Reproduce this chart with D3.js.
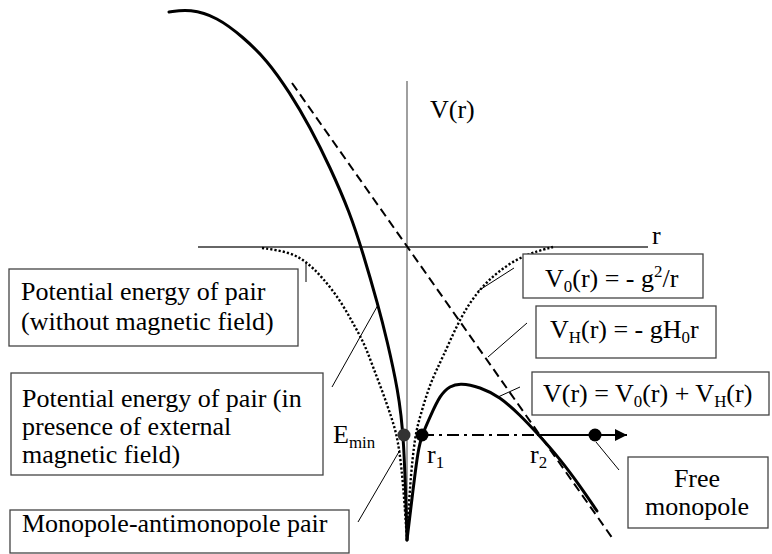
<!DOCTYPE html>
<html>
<head>
<meta charset="utf-8">
<script src="https://cdn.jsdelivr.net/npm/d3@7"></script>
<style>
  body { margin: 0; background: #fff; }
  svg text { font-family: "Liberation Serif", "DejaVu Serif", Tinos, "Times New Roman", "Nimbus Roman", FreeSerif, serif; }
</style>
</head>
<body>
<script>
// curves, in (r, V) units
var totalLeft = [[-23.8, 23.5], [-21.7, 23.8], [-19.0, 23.0], [-16.4, 21.0], [-14.0, 18.7], [-11.7, 15.4],
    [-9.7, 12.0], [-7.7, 8.0], [-5.7, 3.4], [-4.4, -0.6], [-2.9, -5.8], [-2.0, -9.3], [-0.9, -14.3],
    [-0.3, -18.8], [0, -29.3]];
var totalRight = [[0, -29.3], [0.6, -24.3], [1.1, -20.3], [1.5, -18.8], [2.3, -17.0], [3.3, -14.8],
    [4.3, -13.9], [5.3, -13.6], [7.3, -14.0], [9.3, -15.0], [11.3, -16.8], [13.0, -18.6], [15.3, -21.2],
    [17.3, -23.9], [19.0, -26.4]];
var coulombLeft = [[-14.5, -0.1], [-11.7, -0.5], [-10.0, -1.5], [-8.4, -3.1], [-6.7, -5.3], [-5.4, -7.6],
    [-4.2, -9.8], [-3.4, -12.0], [-2.4, -14.6], [-1.5, -17.2], [-0.9, -19.2], [-0.4, -23.3], [0, -29.3]];
var coulombRight = [[0, -29.2], [0.3, -23.6], [0.8, -18.8], [1.3, -17.0], [2.3, -13.6], [3.6, -11.0],
    [5.3, -7.1], [7.0, -4.5], [9.0, -2.5], [11.6, -0.8], [14.6, 0]];
var fieldLine = [[-11.5, 16.4], [20.6, -29.2]];

var energyLevel = -18.8;
var levelStart = 1.5, levelR2 = 13.0, levelEnd = 22.0;
var pairDots = [{ r: -0.3, fill: "#333" }, { r: 1.5, fill: "#000" }, { r: 18.8, fill: "#000" }];

var axisR = [-20.9, 24.1];
var axisV = [16.6, -29.0];

var width = 772;
var height = 554;

var x = d3.scaleLinear().domain([-40.7, 36.5]).range([0, width]);
var y = d3.scaleLinear().domain([24.7, -30.7]).range([0, height]);

var svg = d3.select("body").append("svg")
    .attr("width", width)
    .attr("height", height);

svg.append("defs").append("marker")
    .attr("id", "arrow")
    .attr("viewBox", "0 0 10 10")
    .attr("refX", 10).attr("refY", 5)
    .attr("markerWidth", 6).attr("markerHeight", 6)
    .attr("orient", "auto")
    .append("path")
    .attr("d", "M0,0L10,5L0,10Z")
    .attr("fill", "#000");

// axes
svg.append("line")
    .attr("x1", x(axisR[0])).attr("x2", x(axisR[1]))
    .attr("y1", y(0)).attr("y2", y(0))
    .attr("stroke", "#333").attr("stroke-width", 1.4);
svg.append("line")
    .attr("x1", x(0)).attr("x2", x(0))
    .attr("y1", y(axisV[0])).attr("y2", y(axisV[1]))
    .attr("stroke", "#777").attr("stroke-width", 1.4);

var line = d3.line()
    .x(d => x(d[0]))
    .y(d => y(d[1]))
    .curve(d3.curveBasis);

// V0 dotted
[coulombLeft, coulombRight].forEach(function (pts) {
    svg.append("path")
        .attr("d", line(pts))
        .attr("fill", "none")
        .attr("stroke", "#000")
        .attr("stroke-width", 2.4)
        .attr("stroke-dasharray", "2.2 2");
});

// VH dashed
svg.append("path")
    .attr("d", d3.line().x(d => x(d[0])).y(d => y(d[1]))(fieldLine))
    .attr("fill", "none")
    .attr("stroke", "#000")
    .attr("stroke-width", 2)
    .attr("stroke-dasharray", "9 5");

// total potential
[totalLeft, totalRight].forEach(function (pts) {
    svg.append("path")
        .attr("d", line(pts))
        .attr("fill", "none")
        .attr("stroke", "#000")
        .attr("stroke-width", 3)
        .attr("stroke-linecap", "round");
});

// energy level
svg.append("line")
    .attr("x1", x(levelStart)).attr("x2", x(levelR2))
    .attr("y1", y(energyLevel)).attr("y2", y(energyLevel))
    .attr("stroke", "#000").attr("stroke-width", 2)
    .attr("stroke-dasharray", "12 5 3 5");
svg.append("line")
    .attr("x1", x(levelR2)).attr("x2", x(levelEnd))
    .attr("y1", y(energyLevel)).attr("y2", y(energyLevel))
    .attr("stroke", "#000").attr("stroke-width", 2)
    .attr("marker-end", "url(#arrow)");

svg.selectAll("circle.dot")
    .data(pairDots)
    .enter()
    .append("circle")
    .attr("class", "dot")
    .attr("cx", d => x(d.r))
    .attr("cy", y(energyLevel))
    .attr("r", 6.5)
    .attr("fill", d => d.fill);

// leader lines
var leaders = [
    [306, 263, 306, 282],
    [378, 305, 332, 387],
    [400, 450, 358, 522],
    [478, 291, 514, 268],
    [488, 357, 527, 323],
    [498, 397, 520, 387],
    [596, 442, 619, 470]
];
svg.selectAll("line.leader")
    .data(leaders)
    .enter()
    .append("line")
    .attr("class", "leader")
    .attr("x1", d => d[0]).attr("y1", d => d[1])
    .attr("x2", d => d[2]).attr("y2", d => d[3])
    .attr("stroke", "#000").attr("stroke-width", 1);

// boxes
var boxes = [
    { x: 9, y: 269, w: 289, h: 77 },
    { x: 11, y: 373, w: 312, h: 102 },
    { x: 10, y: 510, w: 339, h: 43 },
    { x: 523, y: 254, w: 180, h: 44 },
    { x: 536, y: 306, w: 180, h: 52 },
    { x: 532, y: 372, w: 237, h: 43 },
    { x: 628, y: 457, w: 140, h: 71 }
];
svg.selectAll("rect.box")
    .data(boxes)
    .enter()
    .append("rect")
    .attr("class", "box")
    .attr("x", d => d.x).attr("y", d => d.y)
    .attr("width", d => d.w).attr("height", d => d.h)
    .attr("fill", "#fff")
    .attr("stroke", "#444")
    .attr("stroke-width", 1.3);

// rich text: pieces of [string, "sub" | "sup" | ""]
function richText(px, py, pieces, size, anchor) {
    var t = svg.append("text")
        .attr("x", px).attr("y", py)
        .style("font-size", size + "px")
        .attr("fill", "#000")
        .attr("text-anchor", anchor || "start");
    var shift = 0;
    pieces.forEach(function (p) {
        var target = p[1] === "sub" ? 5 : p[1] === "sup" ? -10 : 0;
        t.append("tspan")
            .attr("dy", target - shift)
            .style("font-size", (p[1] ? size * 0.65 : size) + "px")
            .text(p[0]);
        shift = target;
    });
    return t;
}

var labels = [
    { x: 21, y: 300, t: [["Potential energy of pair", ""]] },
    { x: 21, y: 330, t: [["(without magnetic field)", ""]] },
    { x: 22, y: 407, t: [["Potential energy of pair (in", ""]] },
    { x: 22, y: 435, t: [["presence of external", ""]] },
    { x: 22, y: 463, t: [["magnetic field)", ""]] },
    { x: 22, y: 532, t: [["Monopole-antimonopole pair", ""]] },
    { x: 545, y: 287, t: [["V", ""], ["0", "sub"], ["(r) = - g", ""], ["2", "sup"], ["/r", ""]] },
    { x: 550, y: 338, t: [["V", ""], ["H", "sub"], ["(r) = - gH", ""], ["0", "sub"], ["r", ""]] },
    { x: 543, y: 402, t: [["V(r) = V", ""], ["0", "sub"], ["(r) + V", ""], ["H", "sub"], ["(r)", ""]] },
    { x: 697, y: 487, t: [["Free", ""]], a: "middle" },
    { x: 697, y: 515, t: [["monopole", ""]], a: "middle" },
    { x: 430, y: 118, t: [["V(r)", ""]] },
    { x: 652, y: 244, t: [["r", ""]] },
    { x: 333, y: 443, t: [["E", ""], ["min", "sub"]] },
    { x: 427, y: 463, t: [["r", ""], ["1", "sub"]] },
    { x: 530, y: 463, t: [["r", ""], ["2", "sub"]] }
];
labels.forEach(function (l) {
    richText(l.x, l.y, l.t, 26, l.a);
});
</script>
</body>
</html>
